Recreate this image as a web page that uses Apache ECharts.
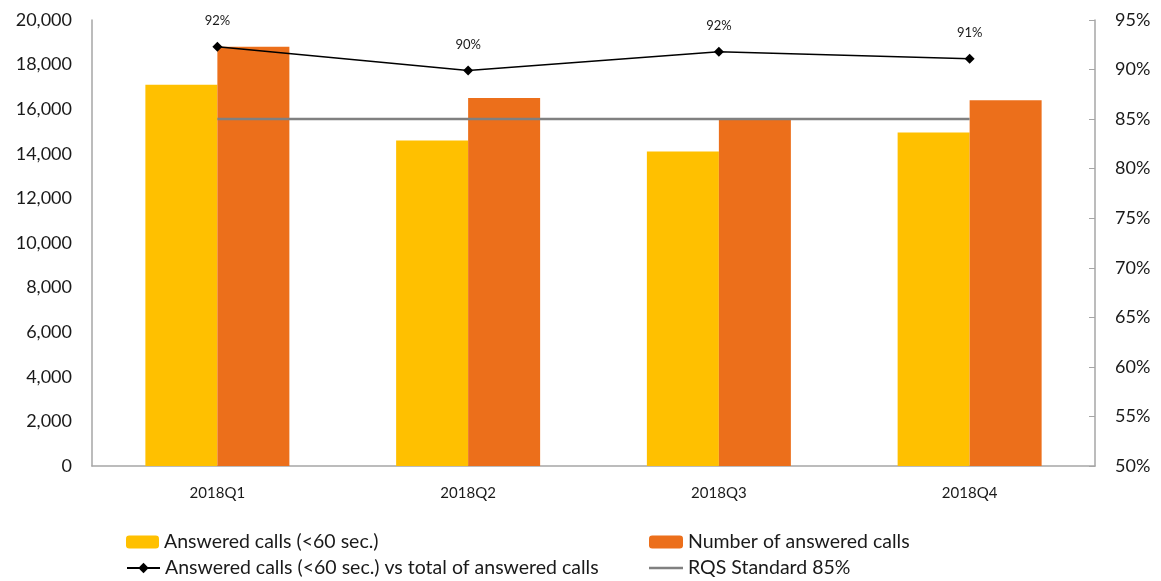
<!DOCTYPE html>
<html><head><meta charset="utf-8">
<script src="https://cdn.jsdelivr.net/npm/echarts@6/dist/echarts.min.js"></script>
<style>html,body{margin:0;padding:0;background:#fff}#c{width:1161px;height:581px}</style>
</head><body><div id="c"></div>
<script>
const categories = ['2018Q1','2018Q2','2018Q3','2018Q4'];
const answered60 = [17100, 14600, 14100, 14950];
const answeredTotal = [18800, 16500, 15550, 16400];
const ratioPct = [92.3, 89.9, 91.8, 91.1];
const ratioLabels = ['92%','90%','92%','91%'];
const rqsStandard = [85, 85, 85, 85];
const leftTicks = [0, 20000];
const rightTicks = [50, 95];

const font = 'Lato';
const chart = echarts.init(document.getElementById('c'));
const legendText = {fontFamily: font, fontSize: 19.5, color: '#1a1a1a'};
chart.setOption({
  animation: false,
  textStyle: {fontFamily: font},
  grid: {left: 92, right: 66, top: 20, bottom: 115, containLabel: false},
  legend: [
    {data: ['Answered calls (<60 sec.)'], left: 126, top: 532, itemWidth: 33, itemHeight: 13, itemGap: 4, textStyle: legendText, padding: 0},
    {data: ['Number of answered calls'], left: 649, top: 532, itemWidth: 34, itemHeight: 13, textStyle: legendText, padding: 0},
    {data: ['Answered calls (<60 sec.) vs total of answered calls'], left: 126, top: 558, itemWidth: 33, itemHeight: 13, textStyle: legendText, padding: 0},
    {data: [{name: 'RQS Standard 85%', icon: 'rect'}], left: 649, top: 558, itemWidth: 34, itemHeight: 2.5, textStyle: legendText, padding: 0}
  ],
  xAxis: {
    type: 'category', data: categories,
    axisLine: {lineStyle: {color: '#a6a6a6', width: 1.5}},
    axisTick: {show: false},
    axisLabel: {color: '#1a1a1a', fontSize: 15, margin: 20, fontFamily: font}
  },
  yAxis: [
    {type: 'value', min: leftTicks[0], max: leftTicks[1], interval: 2000, position: 'left',
     axisLine: {show: true, lineStyle: {color: '#a6a6a6', width: 1.5}},
     axisTick: {show: false}, splitLine: {show: false},
     axisLabel: {color: '#1a1a1a', fontSize: 18, margin: 20,
       formatter: v => v.toLocaleString('en-US')}},
    {type: 'value', min: rightTicks[0], max: rightTicks[1], interval: 5, position: 'right',
     axisLine: {show: true, lineStyle: {color: '#a6a6a6', width: 1.5}},
     axisTick: {show: true, inside: true, length: 6, lineStyle: {color: '#a6a6a6'}}, splitLine: {show: false},
     axisLabel: {color: '#1a1a1a', fontSize: 18, margin: 20, formatter: '{value}%'}}
  ],
  series: [
    {name: 'Answered calls (<60 sec.)', type: 'bar', data: answered60, barWidth: 72, barGap: '0%',
     itemStyle: {color: '#FFC000'}},
    {name: 'Number of answered calls', type: 'bar', data: answeredTotal, barWidth: 72, barGap: '0%',
     itemStyle: {color: '#EC6F1B'}},
    {name: 'Answered calls (<60 sec.) vs total of answered calls', type: 'line', yAxisIndex: 1,
     data: ratioPct, symbol: 'diamond', symbolSize: 10,
     lineStyle: {color: '#000', width: 1.5}, itemStyle: {color: '#000'},
     label: {show: true, position: 'top', distance: 14, color: '#1a1a1a', fontSize: 13,
       formatter: p => ratioLabels[p.dataIndex]}, z: 5},
    {name: 'RQS Standard 85%', type: 'line', yAxisIndex: 1, data: rqsStandard, symbol: 'none',
     lineStyle: {color: '#808080', width: 2.5}, itemStyle: {color: '#808080'}, z: 4}
  ]
});
</script></body></html>
